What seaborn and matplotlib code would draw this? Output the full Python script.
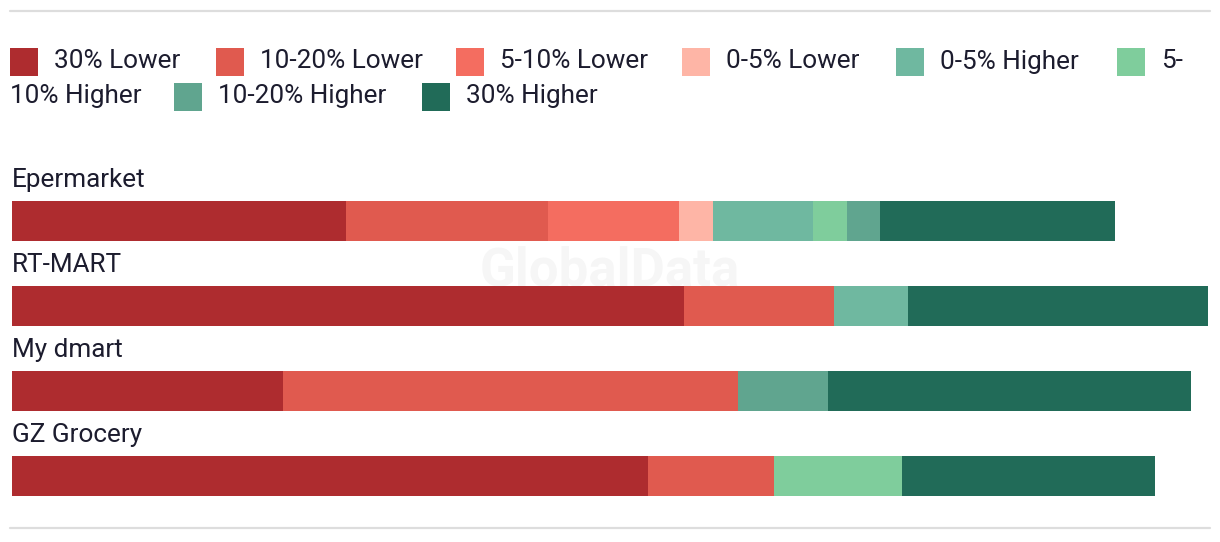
import numpy as np
import pandas as pd
import matplotlib
matplotlib.use('Agg')
import matplotlib.pyplot as plt
from matplotlib.patches import Rectangle
from matplotlib.lines import Line2D
import seaborn as sns

# data (share of shoppers, %)
stores = ['Epermarket', 'RT-MART', 'My dmart', 'GZ Grocery']
groups = ['30% Lower', '10-20% Lower', '5-10% Lower', '0-5% Lower',
          '0-5% Higher', '5-10% Higher', '10-20% Higher', '30% Higher']
lower_30 = [27.9, 56.2, 22.7, 53.2]
lower_10_20 = [16.9, 12.5, 38.0, 10.5]
lower_5_10 = [11.0, 0, 0, 0]
lower_0_5 = [2.8, 0, 0, 0]
higher_0_5 = [8.4, 6.2, 0, 0]
higher_5_10 = [2.8, 0, 0, 10.7]
higher_10_20 = [2.8, 0, 7.5, 0]
higher_30 = [19.6, 25.1, 30.4, 21.2]

colors = ['#ae2c2f', '#e05a4f', '#f46d60', '#feb5a6',
          '#6fb8a0', '#7fcd9c', '#60a58f', '#216b58']

df = pd.DataFrame({'store': stores})
for g, v in zip(groups, [lower_30, lower_10_20, lower_5_10, lower_0_5,
                         higher_0_5, higher_5_10, higher_10_20, higher_30]):
    df[g] = v
cum = df[groups].cumsum(axis=1)
cum['store'] = stores

W, H = 1220, 542
sns.set_style('white')
plt.rcParams['font.family'] = ['Roboto', 'DejaVu Sans']
txt_color = '#1c1c2e'
fs = 18.8

fig = plt.figure(figsize=(W / 100, H / 100), dpi=100)

def fx(x):
    return x / W

def fy(y):
    return 1 - y / H

# axes: x from 12px to 1208px, rows 85px apart starting at 221px
ax = fig.add_axes([fx(12), fy(518.5), fx(1208) - fx(12), (518.5 - 136) / H])

# stacked bars: draw cumulative totals from the end backwards
for g, c in reversed(list(zip(groups, colors))):
    sns.barplot(data=cum, x=g, y='store', order=stores, color=c,
                orient='h', width=40 / 85, errorbar=None, ax=ax,
                saturation=1, linewidth=0)

ax.set_xlim(0, 100)
ax.set_ylim(3.5, -1.0)
ax.set_xlabel('')
ax.set_ylabel('')
ax.set_xticks([])
ax.set_yticks([])
sns.despine(ax=ax, left=True, bottom=True)

# store names sit above their bars (baseline ~34px above bar centre)
for i, s in enumerate(stores):
    ax.text(0, i - 34 / 85, s, ha='left', va='baseline', fontsize=fs,
            color=txt_color, transform=ax.transData)

# legend laid out like the flowed html legend (wraps inside "5-10% Higher")
legend_items = [
    (0, 10, 48, '30% Lower'),
    (1, 216, 48, '10-20% Lower'),
    (2, 456, 48, '5-10% Lower'),
    (3, 682, 48, '0-5% Lower'),
    (4, 896, 48, '0-5% Higher'),
    (5, 1117, 48, '5-'),
    (6, 174, 83, '10-20% Higher'),
    (7, 422, 83, '30% Higher'),
]
for idx, x0, y0, lab in legend_items:
    fig.add_artist(Rectangle((fx(x0), fy(y0 + 28)), 28 / W, 28 / H,
                             transform=fig.transFigure, color=colors[idx], lw=0))
    fig.text(fx(x0 + 44), fy(y0 + 20.5), lab, ha='left', va='baseline',
             fontsize=fs, color=txt_color)
fig.text(fx(10), fy(103.5), '10% Higher', ha='left', va='baseline',
         fontsize=fs, color=txt_color)

# top and bottom rules
for y in [11, 528]:
    fig.add_artist(Line2D([fx(10), fx(1210)], [fy(y), fy(y)],
                          transform=fig.transFigure, color='#dddddd', lw=1.6))

# watermark
fig.text(fx(610), fy(271), 'GlobalData', ha='center', va='center',
         fontsize=38, fontweight='bold', color='#808080', alpha=0.07)

fig.savefig('out.png', dpi=100)
